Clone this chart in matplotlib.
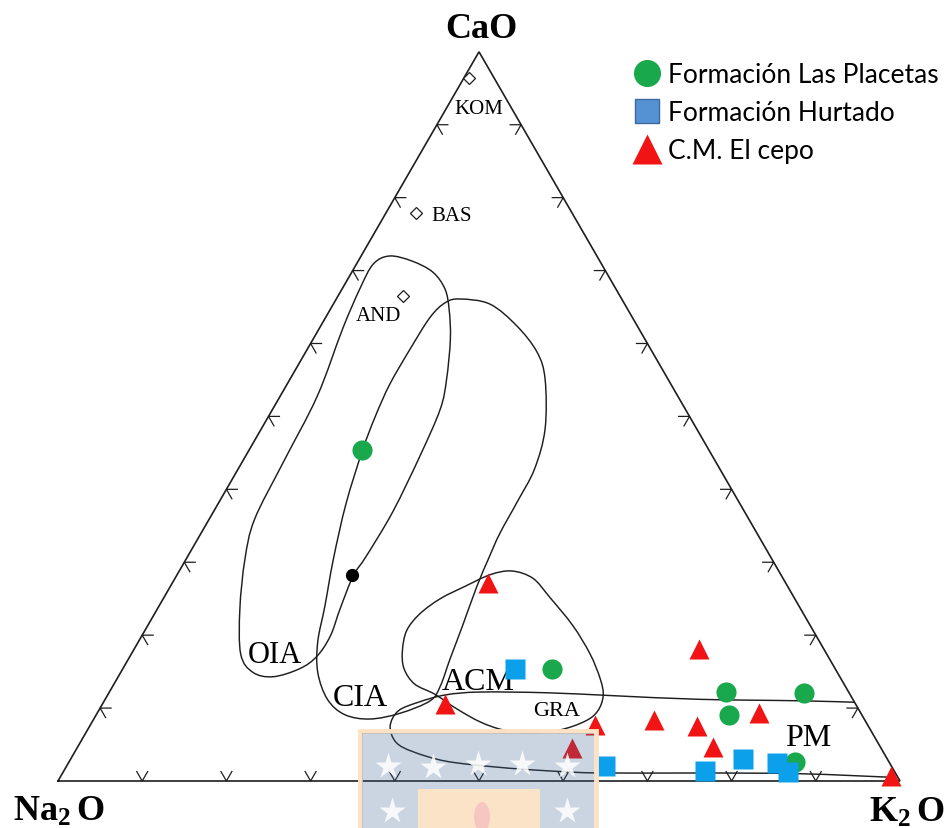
import numpy as np
import matplotlib
matplotlib.use("Agg")
import matplotlib.pyplot as plt
from matplotlib.path import Path
from matplotlib.patches import PathPatch, Rectangle, Ellipse
from matplotlib.lines import Line2D

# ---------------- data: compositions in % (CaO, K2O); Na2O = remainder ----------------
placetas_cao = [45.4, 15.4, 12.2, 12.1, 9.1, 2.6]
placetas_k2o = [13.4, 51.0, 73.2, 82.6, 75.2, 86.2]

hurtado_cao = [15.4, 2.1, 1.4, 3.0, 2.5, 1.2]
hurtado_k2o = [46.6, 63.9, 76.2, 79.8, 84.2, 86.1]

cepo_cao = [27.2, 18.1, 9.3, 8.4, 7.5, 4.7, 0.7, 10.6, 7.7, 4.5]
cepo_k2o = [37.5, 67.1, 78.6, 66.6, 72.1, 75.5, 98.6, 40.7, 59.9, 58.8]

black_cao = [28.3]
black_k2o = [20.8]

ref_names = ["KOM", "BAS", "AND"]
ref_cao = [96.4, 77.9, 66.5]
ref_k2o = [0.6, 3.6, 7.7]
ref_label_cao = [92.2, 77.6, 63.9]
ref_label_k2o = [3.9, 7.9, 6.1]

# tectonic-setting field outlines (CaO %, K2O %)
oia_cao = [72.0, 71.3, 69.8, 67.5, 64.7, 60.6, 55.1, 51.0, 44.6, 36.9, 30.9, 28.1, 23.6,
           19.9, 17.1, 15.4, 14.3, 14.9, 17.4, 23.6, 30.4, 35.9, 43.7, 52.8, 62.0, 67.5, 70.9]
oia_k2o = [3.4, 6.4, 9.6, 12.2, 14.1, 16.3, 18.6, 19.9, 20.7, 21.3, 21.2, 21.0, 21.7,
           22.4, 22.2, 21.0, 18.4, 15.7, 13.0, 9.8, 7.0, 5.4, 4.9, 4.4, 2.8, 2.1, 2.0]

cia_cao = [66.1, 65.4, 62.4, 58.8, 55.1, 48.3, 42.8, 38.3, 33.9, 30.4, 26.7, 21.3, 16.7, 13.0,
           11.0, 9.3, 8.5, 9.1, 11.2, 14.9, 19.1, 24.0, 30.4, 38.0, 45.3, 49.9, 54.4, 59.2, 63.6, 65.6]
cia_k2o = [14.7, 18.6, 23.3, 27.5, 30.3, 33.7, 35.2, 35.4, 35.5, 35.9, 36.4, 37.4, 38.2, 38.9,
           38.7, 36.0, 32.8, 29.5, 26.4, 23.4, 21.3, 19.7, 17.5, 15.2, 13.5, 12.7, 12.2, 12.2, 12.4, 13.2]

acm_cao = [28.8, 27.8, 25.2, 21.3, 17.4, 14.0, 11.7, 9.6, 8.2, 7.0, 6.6, 7.0, 8.1, 9.9, 11.9,
           13.3, 15.4, 17.8, 20.6, 22.9, 25.0, 26.7, 28.3]
acm_k2o = [39.5, 42.5, 45.8, 50.5, 54.5, 57.4, 58.9, 59.3, 58.5, 56.1, 52.8, 49.4, 46.1, 42.4, 38.8,
           35.7, 33.4, 32.0, 31.1, 31.5, 32.9, 35.0, 37.2]

pm_cao = [10.8, 11.0, 11.2, 11.7, 12.1, 12.2, 11.8, 10.8, 9.6, 7.5, 5.3, 4.0, 2.7, 1.9, 1.4,
          1.1, 1.1, 1.0, 0.5]
pm_k2o = [89.2, 82.6, 70.6, 60.1, 52.0, 44.0, 40.1, 37.4, 35.6, 35.7, 37.5, 40.2, 44.8, 51.2, 57.4,
          63.8, 75.7, 87.6, 98.9]

field_names = ["OIA", "CIA", "ACM", "GRA", "PM"]
field_label_cao = [17.4, 11.5, 13.7, 9.7, 5.9]
field_label_k2o = [17.0, 30.2, 43.1, 54.4, 86.2]
field_label_size = [22, 23, 23, 16, 23]

tick_fracs = [0.1, 0.2, 0.3, 0.4, 0.5, 0.6, 0.7, 0.8, 0.9]

legend_labels = ["Formación Las Placetas", "Formación Hurtado", "C.M. El cepo"]

# ---------------- helpers ----------------
H = np.sqrt(3) / 2


def tern(cao, k2o):
    c = np.asarray(cao, float) / 100.0
    k = np.asarray(k2o, float) / 100.0
    return k + c / 2.0, c * H


def smooth_path(x, y, closed=True):
    pts = np.column_stack([x, y])
    if closed:
        P = np.vstack([pts[-1], pts, pts[0], pts[1]])
    else:
        P = np.vstack([pts[0], pts, pts[-1]])
    verts = [P[1]]
    codes = [Path.MOVETO]
    for i in range(1, len(P) - 2):
        p0, p1, p2, p3 = P[i - 1], P[i], P[i + 1], P[i + 2]
        verts += [p1 + (p2 - p0) / 6.0, p2 - (p3 - p1) / 6.0, p2]
        codes += [Path.CURVE4] * 3
    return Path(verts, codes)


plt.rcParams["mathtext.fontset"] = "custom"
plt.rcParams["mathtext.rm"] = "Liberation Serif"
plt.rcParams["mathtext.bf"] = "Liberation Serif:bold"

W, Hh = 950, 829
fig = plt.figure(figsize=(W / 100, Hh / 100), dpi=100)
ax = fig.add_axes([0, 0, 1, 1])
ax.set_xlim(-58 / 842, 892 / 842)
ax.set_ylim(-47 / 842, 782 / 842)
ax.set_aspect("equal")
ax.axis("off")

LC = "#1e1e1e"
# triangle
tx = [0, 1, 0.5, 0]
ty = [0, 0, H, 0]
ax.plot(tx, ty, color=LC, lw=1.2, solid_joinstyle="miter", zorder=2)

# chevron ticks
L = 0.013
for t in tick_fracs:
    px, py = t, 0.0
    ax.plot([px - 0.5 * L, px, px + 0.5 * L], [py + H * L, py, py + H * L], color=LC, lw=0.9, zorder=2)
    px, py = 0.5 * t, H * t
    ax.plot([px + L, px, px + 0.5 * L], [py, py, py - H * L], color=LC, lw=0.9, zorder=2)
    px, py = 1 - 0.5 * t, H * t
    ax.plot([px - L, px, px - 0.5 * L], [py, py, py - H * L], color=LC, lw=0.9, zorder=2)

# fields
for cc, kk, closed in [(oia_cao, oia_k2o, True), (cia_cao, cia_k2o, True),
                       (acm_cao, acm_k2o, True), (pm_cao, pm_k2o, False)]:
    x, y = tern(cc, kk)
    ax.add_patch(PathPatch(smooth_path(x, y, closed), fill=False, edgecolor=LC, lw=1.05, zorder=2))

# field labels
for name, c, k, s in zip(field_names, field_label_cao, field_label_k2o, field_label_size):
    x, y = tern(c, k)
    ax.text(x, y, name, fontsize=s, family="Liberation Serif", ha="center", va="center", zorder=3)

# reference compositions
x, y = tern(ref_cao, ref_k2o)
ax.plot(x, y, "D", ms=6.5, mfc="white", mec=LC, mew=0.9, zorder=3)
for name, c, k in zip(ref_names, ref_label_cao, ref_label_k2o):
    lx, ly = tern(c, k)
    ax.text(lx, ly, name, fontsize=15, family="Liberation Serif", ha="center", va="center", zorder=3)

GREEN = "#1aa84c"
BLUE = "#0ca0ea"
RED = "#f01414"

x, y = tern(black_cao, black_k2o)
ax.plot(x, y, "o", ms=8.5, color="black", zorder=4)
x, y = tern(placetas_cao, placetas_k2o)
ax.plot(x, y, "o", ms=14.5, color=GREEN, mec="none", zorder=5)
x, y = tern(hurtado_cao, hurtado_k2o)
ax.plot(x, y, "s", ms=14.5, color=BLUE, mec="none", zorder=5)
x, y = tern(cepo_cao, cepo_k2o)
ax.plot(x, y, "^", ms=15, color=RED, mec="none", zorder=5)

# apex labels
ax.annotate("CaO", (0.5, H), xytext=(2, 16.5), textcoords="offset points", ha="center", va="center",
            fontsize=26, fontweight="bold", family="Liberation Serif")
ax.annotate(r"$\mathbf{Na_2\,O}$", (0, 0), xytext=(1, -21), textcoords="offset points", ha="center",
            va="center", fontsize=26)
ax.annotate(r"$\mathbf{K_2\,O}$", (1, 0), xytext=(5, -21.5), textcoords="offset points", ha="center",
            va="center", fontsize=26)

# legend
handles = [Line2D([], [], ls="none", marker="o", ms=19.5, color=GREEN, mec="none"),
           Line2D([], [], ls="none", marker="s", ms=17, color="#5592d4", mec="#3c6a9c", mew=1.0),
           Line2D([], [], ls="none", marker="^", ms=22, color=RED, mec="none")]
leg = ax.legend(handles, legend_labels, loc="upper left", bbox_to_anchor=(634 / W, 1 - 63 / Hh),
                bbox_transform=fig.transFigure, frameon=False, borderpad=0, borderaxespad=0,
                handlelength=1.0, handletextpad=0.3, labelspacing=0.5,
                prop={"family": "Lato", "size": 19})

# watermark (semi-transparent logo overlay)
def frect(x0, y0, x1, y1, **kw):
    return Rectangle((x0 / W, 1 - y1 / Hh), (x1 - x0) / W, (y1 - y0) / Hh,
                     transform=fig.transFigure, clip_on=False, **kw)

ax.add_patch(frect(360, 732, 596, 835, facecolor="none", edgecolor="#fbe2c4", lw=3.5, zorder=10))
ax.add_patch(frect(362, 734, 594, 829, facecolor="#3f6597", alpha=0.27, lw=0, zorder=11))
ax.add_patch(frect(418, 790, 540, 829, facecolor="#fbe3c8", alpha=1.0, lw=0, zorder=12))
ax.add_patch(Ellipse((482 / W, 1 - 818 / Hh), 16 / W, 30 / Hh, transform=fig.transFigure,
                     facecolor="#f4b3bb", alpha=0.6, lw=0, zorder=13, clip_on=False))
sx = np.array([388, 433, 478, 522, 567, 392, 567]) / W
sy = 1 - np.array([767, 768, 765, 765, 767, 812, 812]) / Hh
ax.plot(sx, sy, "*", ms=20, color="white", alpha=0.85, mec="none", transform=fig.transFigure,
        clip_on=False, zorder=12)

fig.savefig("out.png", dpi=100)
